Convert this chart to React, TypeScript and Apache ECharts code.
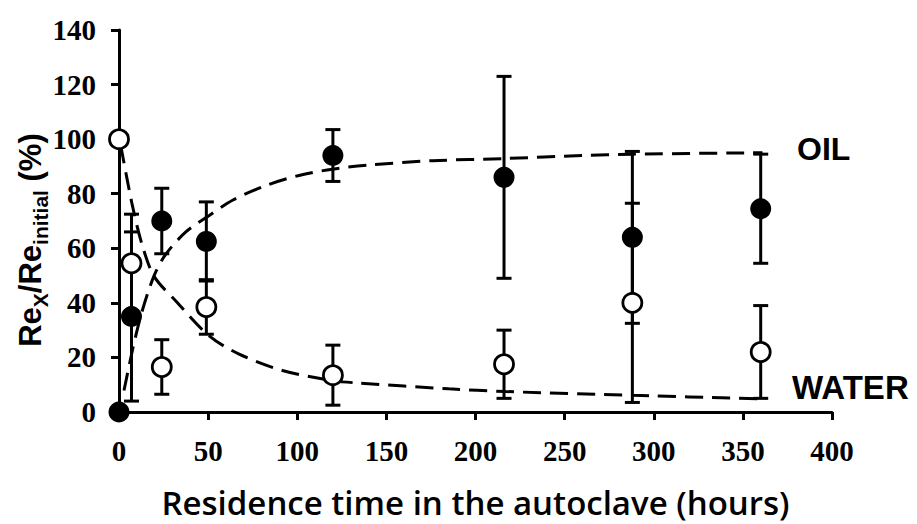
import React, { useEffect, useRef } from "react";
import * as echarts from "echarts";

// Measured points (time in hours, value in %)
const oilTime = [0, 7, 24, 49, 120, 216, 288, 360];
const oilValue = [0, 35, 70, 62.5, 94, 86, 64, 74.5];
const oilErr = [0, 31, 12, 14.5, 9.5, 37, 31.5, 20];

const waterTime = [0, 7, 24, 49, 120, 216, 288, 360];
const waterValue = [100, 54.5, 16.5, 38.5, 13.5, 17.5, 40, 22];
const waterErr = [0, 18, 10, 10, 11, 12.5, 36.5, 17];

// Fitted (dashed) curves
const oilFitTime = [2.8, 8, 13, 19.7, 26, 37.5, 50.6, 63.7, 82.4, 101, 119.8, 140, 176, 217, 260, 288, 361];
const oilFitValue = [7.9, 24, 37, 50, 57.6, 66, 72, 77.6, 83, 86.7, 89, 90.5, 92.1, 92.9, 94, 94.5, 95];
const waterFitTime = [1, 7.5, 13, 19.7, 32, 50.6, 67.4, 91.7, 119.8, 134.8, 185, 217, 288, 361];
const waterFitValue = [97.6, 75.7, 61.2, 49.7, 40.6, 27.9, 21.2, 15.2, 11.5, 10.6, 8.5, 7.5, 6.1, 4.8];

const xMin = 0, xMax = 400, xStep = 50;
const yMin = 0, yMax = 140, yStep = 20;

const labelOil = "OIL";
const labelWater = "WATER";
const xTitle = "Residence time in the autoclave (hours)";
const yTitle = "{m|Re}{s|X}{m|/Re}{s|initial}{m| (%)}";

export default function App() {
  const ref = useRef<HTMLDivElement>(null);
  useEffect(() => {
    document.body.style.margin = "0";
    if (!ref.current) return;
    const chart = echarts.init(ref.current, undefined, { renderer: "svg" });

    const pairs = (xs: number[], ys: number[]) => xs.map((x, i) => [x, ys[i]]);
    const errData = (xs: number[], ys: number[], es: number[]) =>
      xs.map((x, i) => [x, ys[i] - es[i], ys[i] + es[i]]).filter((_, i) => es[i] > 0);

    const renderErr = (params: any, api: any) => {
      const x = api.value(0);
      const lo = api.value(1);
      const hi = api.value(2);
      const top = api.coord([x, hi]);
      const bot = api.coord([x, lo]);
      const w = 7.5;
      const st = { stroke: "#000", lineWidth: 3 };
      return {
        type: "group",
        children: [
          { type: "line", shape: { x1: top[0], y1: top[1], x2: bot[0], y2: bot[1] }, style: st },
          { type: "line", shape: { x1: top[0] - w, y1: top[1], x2: top[0] + w, y2: top[1] }, style: st },
          { type: "line", shape: { x1: bot[0] - w, y1: bot[1], x2: bot[0] + w, y2: bot[1] }, style: st },
        ],
      };
    };

    const tickLabel = {
      color: "#000",
      fontFamily: "Liberation Serif",
      fontWeight: "bold" as const,
      fontSize: 29,
    };

    chart.setOption({
      animation: false,
      backgroundColor: "#fff",
      grid: { left: 119, right: 85, top: 30, bottom: 108 },
      xAxis: {
        type: "value",
        min: xMin,
        max: xMax,
        interval: xStep,
        name: xTitle,
        nameLocation: "middle",
        nameGap: 74,
        nameTextStyle: {
          color: "#000",
          fontFamily: "Open Sans",
          fontWeight: 600,
          fontSize: 33,
        },
        axisLine: { show: true, onZero: false, lineStyle: { color: "#000", width: 3 } },
        axisTick: { show: true, length: 8, lineStyle: { color: "#000", width: 3 } },
        splitLine: { show: false },
        axisLabel: { ...tickLabel, margin: 24 },
      },
      yAxis: {
        type: "value",
        min: yMin,
        max: yMax,
        interval: yStep,
        axisLine: { show: true, onZero: false, lineStyle: { color: "#000", width: 3 } },
        axisTick: { show: true, length: 8, lineStyle: { color: "#000", width: 3 } },
        splitLine: { show: false },
        axisLabel: { ...tickLabel, margin: 23 },
      },
      series: [
        {
          type: "line",
          data: pairs(oilFitTime, oilFitValue),
          showSymbol: false,
          smooth: 0.3,
          lineStyle: { color: "#000", width: 3, type: [18, 9] },
          z: 2,
        },
        {
          type: "line",
          data: pairs(waterFitTime, waterFitValue),
          showSymbol: false,
          smooth: 0.3,
          lineStyle: { color: "#000", width: 3, type: [18, 9] },
          z: 2,
        },
        {
          type: "custom",
          renderItem: renderErr,
          data: errData(oilTime, oilValue, oilErr),
          clip: false,
          z: 3,
        },
        {
          type: "custom",
          renderItem: renderErr,
          data: errData(waterTime, waterValue, waterErr),
          clip: false,
          z: 3,
        },
        {
          type: "scatter",
          data: pairs(waterTime, waterValue),
          symbol: "circle",
          symbolSize: 19,
          itemStyle: { color: "#fff", borderColor: "#000", borderWidth: 2.8, opacity: 1 },
          z: 4,
        },
        {
          type: "scatter",
          data: pairs(oilTime, oilValue),
          symbol: "circle",
          symbolSize: 21,
          itemStyle: { color: "#000", opacity: 1 },
          z: 5,
        },
      ],
      graphic: [
        {
          type: "text",
          x: 30,
          y: 240,
          rotation: Math.PI / 2,
          style: {
            text: yTitle,
            align: "center",
            verticalAlign: "middle",
            fill: "#000",
            rich: {
              m: {
                fontFamily: "Liberation Sans",
                fontWeight: "bold",
                fontSize: 31,
                fill: "#000",
                lineHeight: 42,
                verticalAlign: "middle",
              },
              s: {
                fontFamily: "Liberation Sans",
                fontWeight: "bold",
                fontSize: 21,
                fill: "#000",
                lineHeight: 42,
                verticalAlign: "bottom",
                padding: [17, 0, 0, 0],
              },
            },
          },
        },
        {
          type: "text",
          x: 797,
          y: 149,
          style: {
            text: labelOil,
            fill: "#000",
            fontFamily: "Liberation Sans",
            fontWeight: "bold",
            fontSize: 32,
            verticalAlign: "middle",
          },
        },
        {
          type: "text",
          x: 792,
          y: 387,
          style: {
            text: labelWater,
            fill: "#000",
            fontFamily: "Liberation Sans",
            fontWeight: "bold",
            fontSize: 33,
            verticalAlign: "middle",
          },
        },
      ],
    });
    return () => chart.dispose();
  }, []);
  return <div ref={ref} style={{ width: 917, height: 524 }} />;
}
